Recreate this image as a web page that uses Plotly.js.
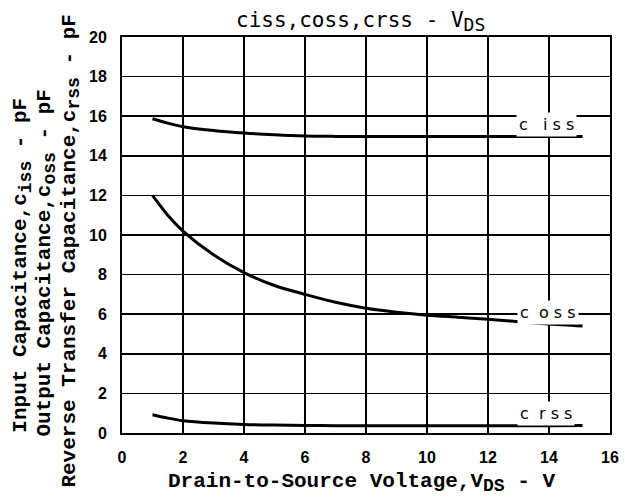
<!DOCTYPE html>
<html>
<head>
<meta charset="utf-8">
<script src="https://cdn.plot.ly/plotly-3.0.1.min.js"></script>
<style>html,body{margin:0;padding:0;background:#fff;}#chart{width:625px;height:497px;}</style>
</head>
<body>
<div id="chart"></div>
<script>
// Drain-to-source voltage (V)
const vds = [1, 1.5, 2, 3, 4, 5, 6, 7, 8, 9, 10, 11, 12, 13, 14, 15.1];
// Capacitances (pF)
const ciss = [15.87, 15.65, 15.47, 15.28, 15.15, 15.06, 15.0, 14.98, 14.97, 14.97, 14.97, 14.97, 14.97, 14.97, 14.97, 14.97];
const coss = [12.0, 11.0, 10.2, 9.0, 8.1, 7.45, 7.0, 6.6, 6.3, 6.1, 5.95, 5.85, 5.75, 5.62, 5.5, 5.4];
const crss = [0.92, 0.75, 0.62, 0.5, 0.43, 0.4, 0.38, 0.37, 0.37, 0.37, 0.37, 0.37, 0.37, 0.37, 0.37, 0.38];
const seriesNames = ["ciss", "coss", "crss"];
const xTicks = [0, 2, 4, 6, 8, 10, 12, 14, 16];
const yTicks = [0, 2, 4, 6, 8, 10, 12, 14, 16, 18, 20];
// curve labels
const labelText = ["c\u00a0\u00a0\u00a0i\u00a0s\u00a0s", "c\u00a0\u00a0o\u00a0s\u00a0s", "c\u00a0\u00a0r\u00a0s\u00a0s"];
const labelX = [13.93, 13.97, 13.9];
const labelY = [15.6, 6.1, 1.0];

const lineStyle = {color: "#000", width: 3, shape: "spline", smoothing: 0.8};
const traces = [ciss, coss, crss].map((ys, i) => ({
  x: vds, y: ys, type: "scatter", mode: "lines", name: seriesNames[i],
  line: lineStyle, hoverinfo: "skip"
}));

const mono = "Liberation Mono";
const sub = (s, px) => "<sub><span style=\"font-size:" + px + "px\">" + s + "</span></sub>";
const annotations = labelText.map((t, i) => ({
  x: labelX[i], y: labelY[i], xref: "x", yref: "y", text: t, showarrow: false,
  font: {family: "DejaVu Sans", size: 16, color: "#000"},
  bgcolor: "#fff", borderpad: 2, xanchor: "center", yanchor: "middle"
}));

// chart title
annotations.push({
  xref: "paper", yref: "paper", x: 0.488, y: 1.04, xanchor: "center", yanchor: "middle",
  text: "ciss,coss,crss - V" + sub("DS", 18), showarrow: false,
  font: {family: "DejaVu Sans Mono", size: 21, color: "#000"}
});
// x axis title
annotations.push({
  xref: "paper", yref: "paper", x: 0.49, y: -0.127, xanchor: "center", yanchor: "middle",
  text: "Drain-to-Source Voltage,V" + sub("DS", 18) + " - V", showarrow: false,
  font: {family: mono, size: 21, color: "#000", weight: "bold"}
});
// y axis titles (three lines)
const yTitles = [
  "Input Capacitance,c" + sub("iss", 18) + " - pF",
  "Output Capacitance,c" + sub("oss", 18) + " - pF",
  "Reverse Transfer Capacitance,c" + sub("rss", 18) + " - pF"
];
const yTitleX = [-0.205, -0.156, -0.105];
const yTitleY = [0.425, 0.43, 0.46];
yTitles.forEach((t, i) => annotations.push({
  xref: "paper", yref: "paper", x: yTitleX[i], y: yTitleY[i], xanchor: "center", yanchor: "middle",
  text: t, showarrow: false, textangle: -90,
  font: {family: mono, size: 21, color: "#000", weight: "bold"}
}));

const tickFont = {family: "Liberation Sans", size: 16, color: "#000", weight: "bold"};
const layout = {
  width: 625, height: 497,
  margin: {l: 122, r: 15, t: 37, b: 64, pad: 0},
  paper_bgcolor: "#fff", plot_bgcolor: "#fff",
  showlegend: false,
  xaxis: {
    range: [0, 16], tickvals: xTicks, ticktext: xTicks.map(String),
    showgrid: true, gridcolor: "#000", gridwidth: 1.5,
    showline: true, linecolor: "#000", linewidth: 2, mirror: true,
    zeroline: false, ticks: "", tickfont: tickFont, ticklabelstandoff: 9,
    fixedrange: true
  },
  yaxis: {
    range: [0, 20], tickvals: yTicks, ticktext: yTicks.map(String),
    showgrid: true, gridcolor: "#000", gridwidth: 1.5,
    showline: true, linecolor: "#000", linewidth: 2, mirror: true,
    zeroline: false, ticks: "", tickfont: tickFont, ticklabelstandoff: 10,
    fixedrange: true
  },
  annotations: annotations
};
Plotly.newPlot("chart", traces, layout, {displayModeBar: false, staticPlot: true});
</script>
</body>
</html>
